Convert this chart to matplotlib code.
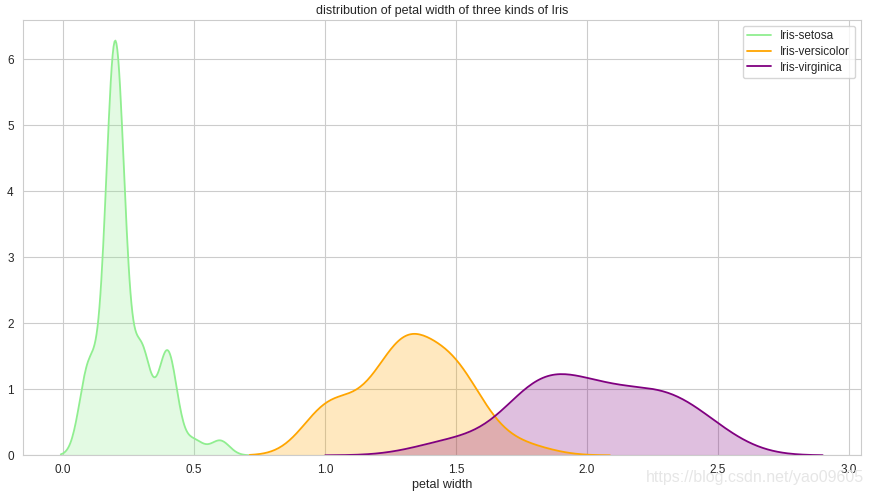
import matplotlib
matplotlib.use('Agg')
import matplotlib.pyplot as plt
import seaborn as sns
import numpy as np

# 花瓣宽度数据 (iris)
setosa = [0.2, 0.2, 0.2, 0.2, 0.2, 0.4, 0.3, 0.2, 0.2, 0.1, 0.2, 0.2, 0.1, 0.1, 0.2, 0.4, 0.4,
          0.3, 0.3, 0.3, 0.2, 0.4, 0.2, 0.5, 0.2, 0.2, 0.4, 0.2, 0.2, 0.2, 0.2, 0.4, 0.1, 0.2,
          0.1, 0.2, 0.2, 0.1, 0.2, 0.2, 0.3, 0.3, 0.2, 0.6, 0.4, 0.3, 0.2, 0.2, 0.2, 0.2]
versicolor = [1.4, 1.5, 1.5, 1.3, 1.5, 1.3, 1.6, 1.0, 1.3, 1.4, 1.0, 1.5, 1.0, 1.4, 1.3, 1.4,
              1.5, 1.0, 1.5, 1.1, 1.8, 1.3, 1.5, 1.2, 1.3, 1.4, 1.4, 1.7, 1.5, 1.0, 1.1, 1.0,
              1.2, 1.6, 1.5, 1.6, 1.5, 1.3, 1.3, 1.3, 1.2, 1.4, 1.2, 1.0, 1.3, 1.2, 1.3, 1.3,
              1.1, 1.3]
virginica = [2.5, 1.9, 2.1, 1.8, 2.2, 2.1, 1.7, 1.8, 1.8, 2.5, 2.0, 1.9, 2.1, 2.0, 2.4, 2.3,
             1.8, 2.2, 2.3, 1.5, 2.3, 2.0, 2.0, 1.8, 2.1, 1.8, 1.8, 1.8, 2.1, 1.6, 1.9, 2.0,
             2.2, 1.5, 1.4, 2.3, 2.4, 1.8, 1.8, 2.1, 2.4, 2.3, 1.9, 2.3, 2.5, 2.3, 1.9, 2.0,
             2.3, 1.8]
names = ['Iris-setosa', 'Iris-versicolor', 'Iris-virginica']
colors = ['lightgreen', 'orange', 'purple']


def scott_factor(d):
    # statsmodels风格的scott带宽, 转换为gaussian_kde的系数
    d = np.asarray(d)
    std = np.std(d, ddof=1)
    iqr = (np.percentile(d, 75) - np.percentile(d, 25)) / 1.349
    bw = 1.059 * min(std, iqr) * len(d) ** (-0.2)
    return bw / std


sns.set_style('whitegrid')
plt.rcParams['font.family'] = ['Liberation Sans', 'DejaVu Sans']

fig = plt.figure(figsize=(8.73, 4.96), dpi=100)
ax = fig.add_axes([0.026, 0.082, 0.960, 0.878])
for d, n, c in zip([setosa, versicolor, virginica], names, colors):
    f = scott_factor(d)
    sns.kdeplot(x=d, bw_method=f, color=c, fill=False, label=n, ax=ax, linewidth=1.3)
    sns.kdeplot(x=d, bw_method=f, color=c, fill=True, alpha=0.25, linewidth=0, ax=ax)

ax.set_ylim(bottom=0)
ax.set_ylabel('')
ax.set_xlabel('petal width', fontsize=9, labelpad=2)
ax.set_title('distribution of petal width of three kinds of Iris', fontsize=9, pad=4)
ax.tick_params(labelsize=8.5, pad=3)
ax.legend(loc='upper right', fontsize=8.5, labelspacing=0.3)
fig.text(0.99, 0.038, 'https://blog.csdn.net/yao09605', ha='right', va='center',
         fontsize=11.5, color='#e6e6e6')
fig.savefig('out.png', dpi=100)
